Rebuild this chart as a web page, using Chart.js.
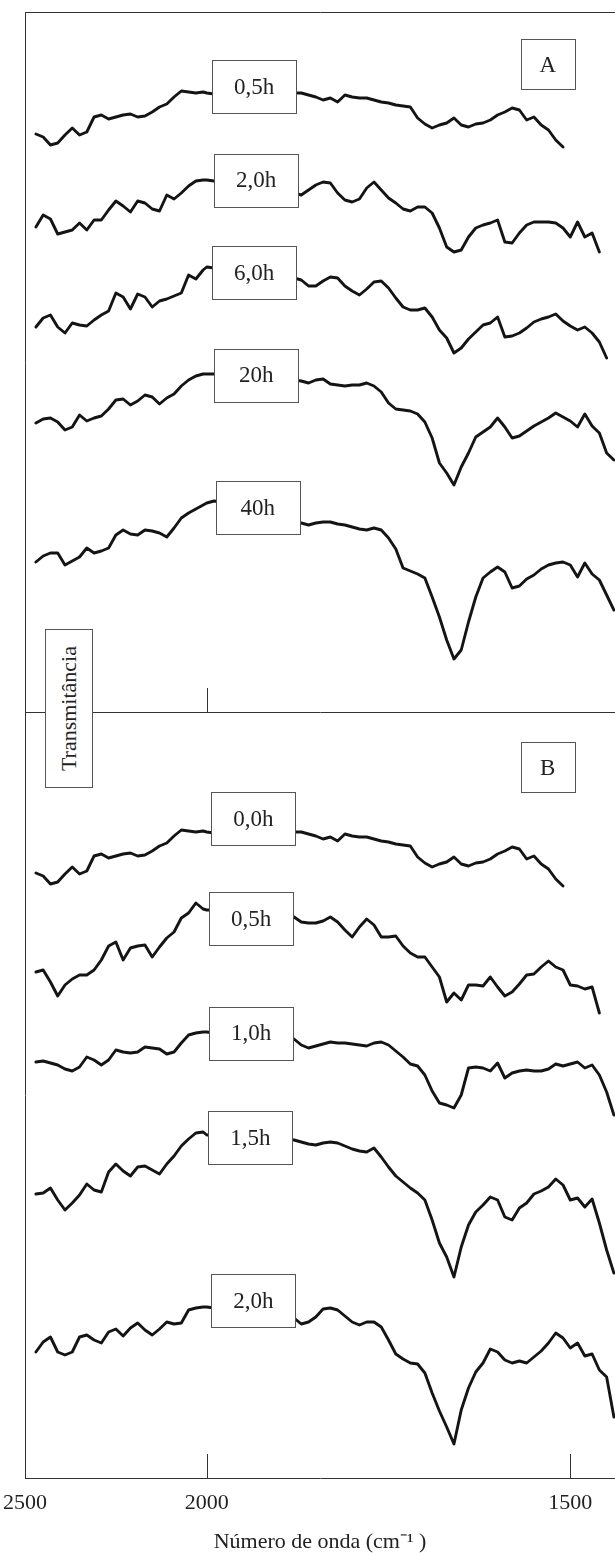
<!DOCTYPE html>
<html><head><meta charset="utf-8">
<script src="https://cdn.jsdelivr.net/npm/chart.js@4.4.1/dist/chart.umd.min.js"></script>
<style>
html,body{margin:0;padding:0;background:#fff;}
#wrap{position:relative;width:615px;height:1553px;overflow:hidden;background:#fff;}
canvas{position:absolute;left:0;}
#cA{top:0;}
#cB{top:712px;}
#ytitle{position:absolute;left:45px;top:629px;width:46px;height:157px;border:1px solid #555;background:#fff;display:flex;align-items:center;justify-content:center;font-family:'Liberation Serif','Times New Roman',serif;font-size:22px;color:#222;z-index:5;}
#ytitle span{writing-mode:vertical-rl;transform:rotate(180deg);white-space:nowrap;}
</style></head>
<body><div id="wrap">
<canvas id="cA" width="615" height="716"></canvas>
<canvas id="cB" width="615" height="841"></canvas>
<div id="ytitle"><span>Transmitância</span></div>
</div>
<script>
// ---- DATA ----
// wavenumber grid (cm-1)
const WN = [2470,2450,2430,2410,2390,2370,2350,2330,2310,2290,2270,2250,2230,2210,2190,2170,2150,2130,2110,2090,2070,2050,2030,2010,
  2000,1990,1980,1970,1960,1950,1940,1930,1920,1910,
  1900,1890,1880,1870,1860,1850,1840,1830,1820,1810,
  1800,1790,1780,1770,1760,1750,1740,1730,1720,1710,
  1700,1690,1680,1670,1660,1650,1640,1630,1620,1610,
  1600,1590,1580,1570,1560,1550,1540,1530,1520,1510,
  1500,1490,1480,1470,1460,1450,1440];
const TICK_WN = [2500, 2000, 1500];

// Panel A series (offset transmittance, arbitrary units)
const A_05h = [578,575,567,569,577,584,577,580,595,597,593,595,597,598,595,596,600,605,608,615,621,620,619,620,
  619,618,618,618,618,618,618,618,618,618,
  618,618,619,619,617,615,612,614,610,617,
  615,614,614,612,610,609,607,606,605,594,
  588,584,587,589,594,587,585,588,589,592,
  597,600,604,602,592,595,587,582,572,565,
  null,null,null,null,null,null,null];
const A_20h = [485,497,493,478,480,482,489,482,492,492,502,511,506,500,511,509,503,501,517,513,519,526,531,532,
  532,531,530,529,528,527,526,525,524,523,
  522,520,519,517,522,527,530,529,519,512,
  510,513,524,530,522,514,509,503,501,505,
  505,499,484,465,460,462,475,484,487,489,
  492,470,469,479,487,490,490,490,489,484,
  475,490,475,479,460,null,null];
const A_60h = [385,394,397,385,379,389,387,386,392,397,401,419,415,403,418,415,405,411,413,416,419,437,433,442,
  445,444,443,442,441,440,439,438,437,437,
  436,435,434,432,426,426,431,435,434,426,
  421,417,423,430,431,424,414,405,402,402,
  404,395,382,374,359,364,373,380,387,389,
  395,375,376,379,384,390,393,395,398,391,
  386,382,385,379,370,354,null];
const A_20hB = [289,293,294,290,282,285,297,291,294,296,303,312,313,307,311,317,315,308,314,318,326,332,336,338,
  338,338,337,337,336,336,335,335,334,334,
  333,332,332,331,329,332,333,328,327,326,
  327,327,329,326,320,309,303,302,301,298,
  290,274,249,239,227,245,259,275,280,285,
  294,285,274,276,281,286,290,294,299,295,
  291,285,298,286,279,259,252];
const A_40h = [150,156,159,159,147,151,155,164,159,161,164,177,182,178,177,182,181,179,175,184,194,199,203,207,
  209,211,210,208,206,204,202,200,198,196,
  194,192,190,189,187,189,190,190,188,187,
  185,183,182,184,182,174,163,144,141,138,
  134,115,95,72,53,62,90,115,134,140,
  145,140,124,126,133,137,143,147,149,150,
  147,135,149,138,132,117,102];

// Panel B series
const B_00h = [605,602,594,596,604,611,604,607,622,624,620,622,624,625,622,623,627,632,635,642,648,647,646,647,
  646,645,645,645,645,645,645,645,645,645,
  645,645,646,646,644,642,639,641,637,644,
  642,641,641,639,637,636,634,633,632,621,
  615,611,614,616,621,614,612,615,616,619,
  624,627,631,629,619,622,614,609,599,592,
  null,null,null,null,null,null,null];
const B_05h = [506,508,496,482,493,499,503,503,508,518,532,536,518,530,532,533,521,531,540,546,560,565,575,569,
  568,568,567,567,566,566,565,564,564,563,
  562,561,561,556,555,555,557,561,556,548,
  541,551,559,553,541,541,542,532,525,521,
  521,511,501,476,485,478,493,493,492,501,
  491,482,486,494,503,504,511,517,511,508,
  493,492,489,491,465,null,null];
const B_10h = [416,417,415,413,409,407,411,421,418,413,418,428,426,425,426,431,430,429,424,426,435,443,445,446,
  446,445,445,444,443,443,442,441,441,440,
  440,439,439,433,430,432,434,436,435,435,
  434,433,432,435,436,433,427,421,414,412,
  403,387,375,373,370,383,410,411,410,407,
  415,400,405,407,408,407,407,409,414,412,
  414,416,410,413,403,386,363];
const B_15h = [284,285,290,278,268,275,283,294,288,286,306,314,307,302,311,312,308,304,314,322,332,339,345,346,
  343,343,342,342,341,341,341,340,340,339,
  339,339,338,336,334,333,335,336,335,332,
  329,327,326,330,321,311,302,296,290,285,
  278,258,235,221,201,231,253,266,273,281,
  278,261,258,270,275,284,287,291,299,293,
  278,280,271,279,255,228,205];
const B_20h = [126,136,141,126,123,126,141,143,138,135,146,149,142,150,155,148,143,149,156,154,155,168,170,171,
  171,170,169,168,167,166,165,164,163,162,
  162,161,160,154,156,161,169,170,168,162,
  156,153,156,156,151,138,124,119,115,114,
  105,85,67,51,34,68,90,106,115,129,
  126,118,115,117,115,121,127,135,145,140,
  130,135,122,124,108,101,61];

const LABELS_A = ['0,5h','2,0h','6,0h','20h','40h'];
const LABELS_B = ['0,0h','0,5h','1,0h','1,5h','2,0h'];

// ---- LAYOUT (annotation anchors in data coords: [wavenumber, value]) ----
const ANCH_A = [[1935,625.5],[1932,532],[1935,439.5],[1932,337],[1930,204.5]];
const ANCH_B = [[1936,659.5],[1939,559.5],[1939,445],[1940,340.5],[1936,177.5]];
const LETTER_A = [1531,648];
const LETTER_B = [1531,711.5];

// piecewise wavenumber axis (scale doubles below 2000 cm-1)
function u(wn){ return wn >= 2000 ? (2500-wn)/500 : 1 + 2*(2000-wn)/500; }
const U_MAX = u(1438.5);
const FONT = "'Liberation Serif','Times New Roman',serif";

function boxPlugin(labels, anchors, letter, letterAnchor, innerTicks){
  return {
    id:'boxes',
    afterDatasetsDraw(chart){
      const ctx = chart.ctx, xs = chart.scales.x, ys = chart.scales.y, ca = chart.chartArea;
      ctx.save();
      ctx.strokeStyle = '#333'; ctx.lineWidth = 1;
      innerTicks.forEach(w => {
        const px = Math.round(xs.getPixelForValue(u(w))) + 0.5;
        ctx.beginPath(); ctx.moveTo(px, ca.bottom); ctx.lineTo(px, ca.bottom - 24); ctx.stroke();
      });
      function box(cx, cy, w, h, txt, dy){
        const x0 = Math.round(cx - w/2) + 0.5, y0 = Math.round(cy - h/2) + 0.5;
        ctx.fillStyle = '#fff'; ctx.fillRect(x0, y0, w, h);
        ctx.strokeStyle = '#555'; ctx.lineWidth = 1; ctx.strokeRect(x0, y0, w, h);
        ctx.fillStyle = '#222'; ctx.font = '23px ' + FONT;
        ctx.textAlign = 'center'; ctx.textBaseline = 'middle';
        ctx.fillText(txt, cx, cy + dy);
      }
      labels.forEach((t, i) => {
        const cx = xs.getPixelForValue(u(anchors[i][0]));
        const cy = ys.getPixelForValue(anchors[i][1]);
        box(cx, cy, 84, 53, t, 1);
      });
      box(xs.getPixelForValue(u(letterAnchor[0])), ys.getPixelForValue(letterAnchor[1]), 54, 50, letter, 2);
      ctx.restore();
    }
  };
}

function makeChart(id, series, labels, anchors, letter, letterAnchor, yMax, isBottom, innerTicks){
  const datasets = series.map(s => ({
    data: WN.map((w, i) => ({x: u(w), y: s[i]})),
    borderColor: '#141414', borderWidth: 2.9, pointRadius: 0, tension: 0,
    spanGaps: false, fill: false, borderJoinStyle: 'round', borderCapStyle: 'round'
  }));
  const scales = {
    x: {
      type: 'linear', min: 0, max: U_MAX, position: 'bottom',
      afterBuildTicks: s => { s.ticks = TICK_WN.map(w => ({value: u(w)})); },
      ticks: {display: isBottom, autoSkip: false, maxRotation: 0, padding: 12, color: '#222',
        font: {family: FONT, size: 22}, callback: (v, i) => String(TICK_WN[i])},
      grid: {display: false, drawTicks: false},
      border: {display: true, color: '#333', width: 1},
      title: {display: isBottom, text: 'Número de onda (cm⁻¹ )', color: '#222',
        font: {family: FONT, size: 22, lineHeight: 1}, padding: {top: 0, bottom: 0}},
      afterFit: s => { s.height = isBottom ? 75 : 4; s.paddingLeft = 0; s.paddingRight = 0; }
    },
    y: {
      type: 'linear', min: 0, max: yMax, position: 'left',
      ticks: {display: false}, grid: {display: false, drawTicks: false},
      border: {display: true, color: '#333', width: 1},
      afterFit: s => { s.width = 25; s.paddingTop = 0; s.paddingBottom = 0; }
    }
  };
  if (!isBottom) {
    scales.xTop = {
      type: 'linear', min: 0, max: U_MAX, position: 'top',
      ticks: {display: false}, grid: {display: false, drawTicks: false},
      border: {display: true, color: '#333', width: 1},
      afterFit: s => { s.height = 12; s.paddingLeft = 0; s.paddingRight = 0; }
    };
  }
  return new Chart(document.getElementById(id), {
    type: 'line',
    data: {datasets},
    options: {
      responsive: false, animation: false, devicePixelRatio: 1,
      layout: {padding: 0},
      plugins: {legend: {display: false}, tooltip: {enabled: false}},
      scales
    },
    plugins: [boxPlugin(labels, anchors, letter, letterAnchor, innerTicks)]
  });
}

makeChart('cA', [A_05h, A_20h, A_60h, A_20hB, A_40h], LABELS_A, ANCH_A, 'A', LETTER_A, 700, false, [2000]);
makeChart('cB', [B_00h, B_05h, B_10h, B_15h, B_20h], LABELS_B, ANCH_B, 'B', LETTER_B, 766, true, [2000, 1500]);
</script>
</body></html>
